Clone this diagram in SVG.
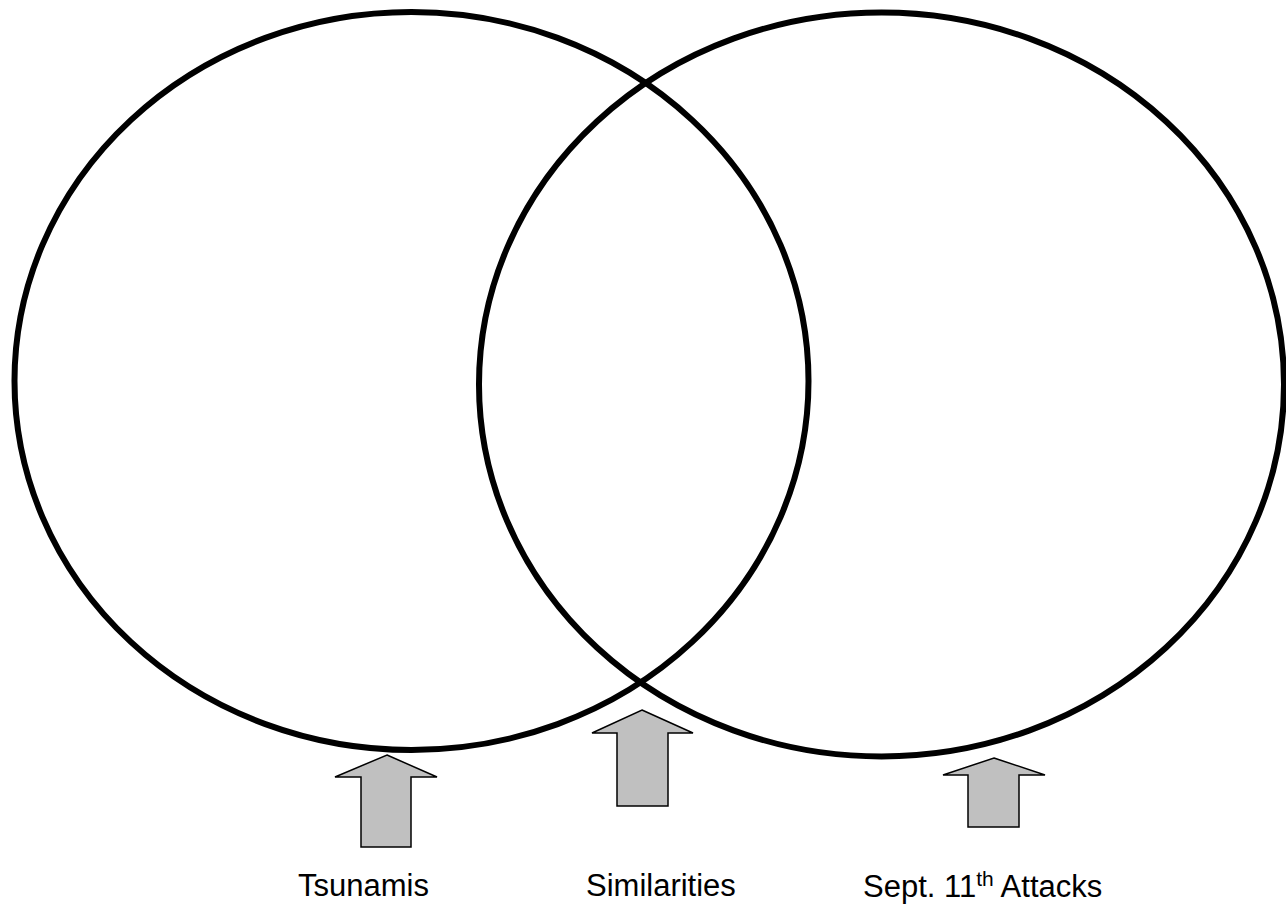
<svg xmlns="http://www.w3.org/2000/svg" width="1286" height="905" viewBox="0 0 1286 905">
<style>
.circle{fill:none;stroke:#000;stroke-width:6}
.arrow{fill:#c0c0c0;stroke:#000;stroke-width:1.5;stroke-linejoin:miter}
.label{font-family:"Liberation Sans",Arial,sans-serif;font-size:31px;fill:#000}
</style>
<rect width="1286" height="905" fill="#fff"/>
<g id="circle-tsunamis"><ellipse class="circle" cx="411.5" cy="381" rx="397" ry="369"/></g>
<g id="circle-sept11"><ellipse class="circle" cx="881.5" cy="384.5" rx="402.5" ry="372"/></g>
<g id="connectors">
<polygon class="arrow" points="387,755 437,777 411,777 411,847 361,847 361,777 335,777"/>
<polygon class="arrow" points="642,710 693,733 668,733 668,806 617,806 617,733 592,733"/>
<polygon class="arrow" points="994,758 1045,775 1019,775 1019,827 968,827 968,775 943,775"/>
</g>
<g id="label-tsunamis"><text class="label" x="298" y="896">Tsunamis</text></g>
<g id="label-similarities"><text class="label" x="586" y="896">Similarities</text></g>
<g id="label-sept11"><text class="label" x="863" y="897">Sept. 11<tspan font-size="21" dy="-11">th</tspan><tspan dy="11"> Attacks</tspan></text></g>
</svg>
